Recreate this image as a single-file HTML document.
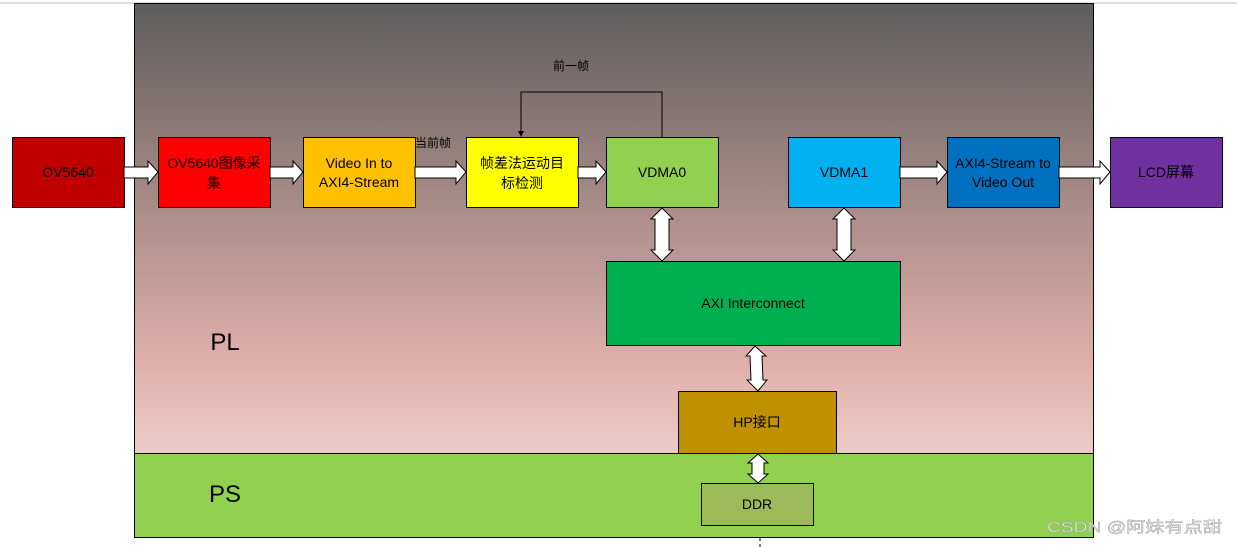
<!DOCTYPE html>
<html><head><meta charset="utf-8"><style>
html,body{margin:0;padding:0;background:#fff;}
svg{display:block;}
text{font-family:"Liberation Sans","Noto Sans CJK SC",sans-serif;}
</style></head><body>
<svg width="1237" height="547" viewBox="0 0 1237 547" xmlns="http://www.w3.org/2000/svg">
<defs>
<linearGradient id="g" x1="0" y1="0" x2="0" y2="1">
<stop offset="0" stop-color="#5d5d5d"/>
<stop offset="0.45" stop-color="#a98c88"/>
<stop offset="0.8" stop-color="#e0b0aa"/>
<stop offset="1" stop-color="#ecccc8"/>
</linearGradient>
</defs>
<line x1="0" y1="3" x2="1237" y2="3" stroke="#c0c0c0" stroke-width="1"/>
<rect x="134.5" y="3.5" width="959" height="450" fill="url(#g)" stroke="#000"/>
<rect x="134.5" y="453.5" width="959" height="84" fill="#92d050" stroke="#000"/>
<line x1="760" y1="538" x2="760" y2="547" stroke="#000" stroke-dasharray="3,3"/>
<text x="225" y="350" font-size="24" fill="#000" text-anchor="middle">PL</text>
<text x="225" y="502" font-size="24" fill="#000" text-anchor="middle">PS</text>

<g stroke="#000" stroke-width="1" font-size="14" text-anchor="middle" fill="#000">
<rect x="12.5" y="137.5" width="112" height="70" fill="#c00000"/>
<rect x="158.5" y="137.5" width="112" height="70" fill="#ff0000"/>
<rect x="303.5" y="137.5" width="112" height="70" fill="#ffc000"/>
<rect x="466.5" y="137.5" width="112" height="70" fill="#ffff00"/>
<rect x="606.5" y="137.5" width="112" height="70" fill="#92d050"/>
<rect x="788.5" y="137.5" width="112" height="70" fill="#00b0f0"/>
<rect x="947.5" y="137.5" width="112" height="70" fill="#0070c0"/>
<rect x="1110.5" y="137.5" width="112" height="70" fill="#7030a0"/>
<rect x="606.5" y="261.5" width="294" height="84" fill="#00b050"/>
<rect x="678.5" y="391.5" width="158" height="62" fill="#bf9000"/>
<rect x="701.5" y="483.5" width="112" height="42" fill="#9bbb59"/>
</g>
<g font-size="14" text-anchor="middle" fill="#000">
<text x="68" y="177">OV5640</text>
<text x="214" y="168">OV5640图像采</text><text x="214" y="188">集</text>
<text x="359" y="168">Video In to</text><text x="359" y="187">AXI4-Stream</text>
<text x="522" y="168">帧差法运动目</text><text x="522" y="188">标检测</text>
<text x="662" y="177">VDMA0</text>
<text x="844" y="177">VDMA1</text>
<text x="1003" y="168">AXI4-Stream to</text><text x="1003" y="187">Video Out</text>
<text x="1166" y="177">LCD屏幕</text>
<text x="753" y="308">AXI Interconnect</text>
<text x="757" y="427">HP接口</text>
<text x="757" y="509">DDR</text>
<text x="571" y="70" font-size="12">前一帧</text>
<text x="433" y="147" font-size="12">当前帧</text>
</g>

<polyline points="662,137 662,92 521,92 521,132" fill="none" stroke="#000" stroke-width="1"/>
<polygon points="518,131 524,131 521,137" fill="#000"/>

<g fill="#fff" stroke="#000" stroke-width="1">
<polygon points="124,167 148,167 148,161 158,172 148,184 148,178 124,178"/>
<polygon points="270,167 293,167 293,161 303,172 293,184 293,178 270,178"/>
<polygon points="415,167 456,167 456,161 466,172 456,184 456,178 415,178"/>
<polygon points="578,167 596,167 596,161 606,172 596,184 596,178 578,178"/>
<polygon points="900,167 937,167 937,161 947,172 937,184 937,178 900,178"/>
<polygon points="1059,167 1100,167 1100,161 1110,172 1100,184 1100,178 1059,178"/>
<polygon points="662,208 673,219 669,219 669,250 673,250 662,261 651,250 655,250 655,219 651,219"/>
<polygon points="844,208 855,219 851,219 851,250 855,250 844,261 833,250 837,250 837,219 833,219"/>
<polygon points="755,346 766,356 762,356 763,380 767,380 758,391 747,380 751,380 750,356 746,356"/>
<polygon points="758,454 768,463 764,463 764,474 768,474 758,483 748,474 752,474 752,463 748,463"/>
</g>

<text x="1047" y="532" font-size="15" fill="#e8e8e8" stroke="#9a9a9a" stroke-width="0.4" textLength="175" lengthAdjust="spacingAndGlyphs">CSDN @阿妹有点甜</text>
</svg>
</body></html>
